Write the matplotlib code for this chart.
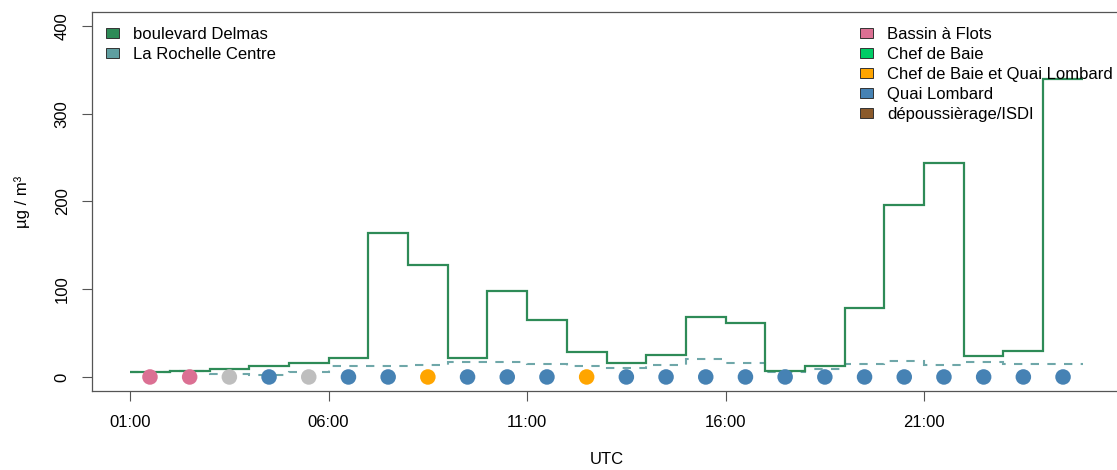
import matplotlib
matplotlib.use("Agg")
import matplotlib.pyplot as plt
from matplotlib.patches import Patch

plt.rcParams['font.family'] = ['Liberation Sans', 'DejaVu Sans']

# ---- data ----
hours = list(range(1, 26))  # hour edges 01:00 .. 01:00 next day
delmas = [6, 7, 9.5, 12.5, 16, 22, 164, 128, 22, 97.5, 65, 29, 16, 24.5,
          68, 62, 7, 12.5, 78.5, 195.5, 244, 23.5, 30, 340]
rochelle = [6, 7, 3.5, 2, 6, 12.5, 12.5, 13.5, 17, 17, 15, 12.5, 10.5, 13.5,
            21, 15.5, 6, 9, 15, 18, 13.5, 16.5, 15, 15]
sources = ['Bassin à Flots', 'Bassin à Flots', None, 'Quai Lombard', None,
           'Quai Lombard', 'Quai Lombard', 'Chef de Baie et Quai Lombard',
           'Quai Lombard', 'Quai Lombard', 'Quai Lombard',
           'Chef de Baie et Quai Lombard'] + ['Quai Lombard'] * 12
source_names = ['Bassin à Flots', 'Chef de Baie', 'Chef de Baie et Quai Lombard',
                'Quai Lombard', 'dépoussièrage/ISDI']
source_colors = ['#DB7093', '#00CD66', '#FFA500', '#4682B4', '#8B5A2B']
station_names = ['boulevard Delmas', 'La Rochelle Centre']
station_colors = ['#2E8B57', '#5F9EA0']
xtick_pos = [1, 6, 11, 16, 21]
xtick_labels = ['01:00', '06:00', '11:00', '16:00', '21:00']
ytick_pos = [0, 100, 200, 300, 400]

W, H = 1117, 470
fig = plt.figure(figsize=(W / 100, H / 100), dpi=100)
ax = fig.add_axes([92 / W, (H - 391) / H, (1121 - 92) / W, (391 - 12) / H])

ax.stairs(delmas, hours, baseline=None, color=station_colors[0], lw=1.6, zorder=3)
ax.stairs(rochelle, hours, baseline=None, color=station_colors[1], lw=1.5,
          linestyle=(0, (4, 4)), alpha=0.9, zorder=2)

cmap = dict(zip(source_names, source_colors))
xs = [h + 0.5 for h in hours[:-1]]
cols = [cmap[s] if s else '#BEBEBE' for s in sources]
ax.scatter(xs, [0] * len(xs), s=125, c=cols, edgecolors='none', zorder=4)

ax.set_xlim(0.04, 25.96)
ax.set_ylim(-16, 416)
ax.set_xticks(xtick_pos)
ax.set_xticklabels(xtick_labels)
ax.set_yticks(ytick_pos)
ax.set_yticklabels([str(v) for v in ytick_pos], rotation=90, va='center')
ax.tick_params(axis='both', direction='out', length=7, width=0.8, color='#555555',
               labelsize=12, pad=9)
ax.tick_params(axis='x', pad=10)
for s in ax.spines.values():
    s.set_color('#555555')
    s.set_linewidth(0.9)

ax.set_xlabel('UTC', fontsize=12, labelpad=16)
ax.set_ylabel('µg / m³', fontsize=12, labelpad=18)

h1 = [Patch(facecolor=c, edgecolor='#333333', lw=0.7) for c in station_colors]
leg1 = ax.legend(h1, station_names, loc='upper left', frameon=False, fontsize=12,
                 bbox_to_anchor=(106 / W, (H - 27) / H), bbox_transform=fig.transFigure,
                 borderpad=0, borderaxespad=0, handlelength=0.76, handleheight=0.54,
                 handletextpad=0.88, labelspacing=0.3)
ax.add_artist(leg1)
h2 = [Patch(facecolor=c, edgecolor='#333333', lw=0.7) for c in source_colors]
ax.legend(h2, source_names, loc='upper left', frameon=False, fontsize=12,
          bbox_to_anchor=(860 / W, (H - 27) / H), bbox_transform=fig.transFigure,
          borderpad=0, borderaxespad=0, handlelength=0.76, handleheight=0.54,
          handletextpad=0.88, labelspacing=0.3)

fig.savefig('out.png', dpi=100)
